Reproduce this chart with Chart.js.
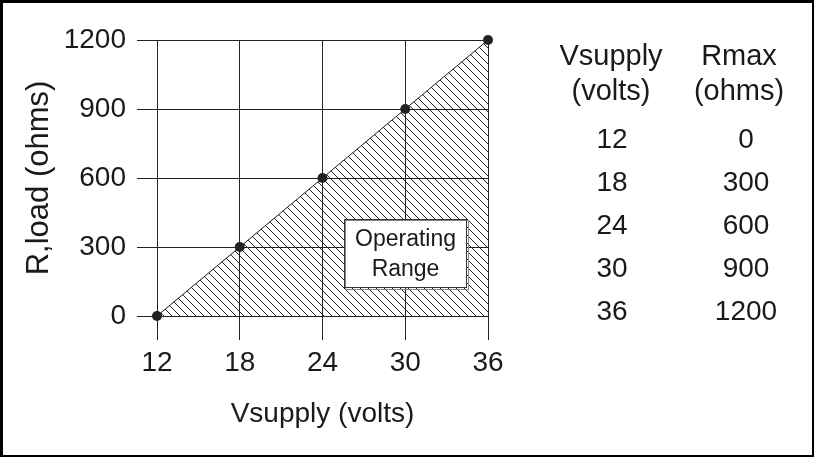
<!DOCTYPE html>
<html>
<head>
<meta charset="utf-8">
<script src="https://cdn.jsdelivr.net/npm/chart.js@4.4.1/dist/chart.umd.min.js"></script>
<style>
  html, body { margin: 0; padding: 0; background: #fff; }
  canvas { display: block; }
</style>
</head>
<body>
<canvas id="canvas" width="814" height="457"></canvas>
<script>
const vsupply = [12, 18, 24, 30, 36];
const rmax = [0, 300, 600, 900, 1200];
const xTicks = [12, 18, 24, 30, 36];
const yTicks = [0, 300, 600, 900, 1200];
const tableHead1 = ['Vsupply', '(volts)'];
const tableHead2 = ['Rmax', '(ohms)'];
const boxText = ['Operating', 'Range'];

const FONT = '"Liberation Sans", Arial, sans-serif';
const INK = '#1a1a1a';

// diagonal hatch for the operating region
function hatch() {
    const c = document.createElement('canvas');
    c.width = 8; c.height = 8;
    const g = c.getContext('2d');
    g.strokeStyle = '#222';
    g.lineWidth = 1;
    g.beginPath();
    g.moveTo(-2, -2); g.lineTo(10, 10);
    g.moveTo(-2, 6); g.lineTo(2, 10);
    g.moveTo(6, -2); g.lineTo(10, 2);
    g.stroke();
    return g.createPattern(c, 'repeat');
}

const extras = {
    id: 'extras',
    afterDatasetsDraw(chart) {
        const { ctx, scales: { x, y } } = chart;
        // label box inside the hatched area
        const x0 = x.getPixelForValue(25.56), x1 = x.getPixelForValue(34.48);
        const y0 = y.getPixelForValue(421.7), y1 = y.getPixelForValue(121.7);
        ctx.save();
        ctx.fillStyle = '#fff';
        ctx.fillRect(x0, y0, x1 - x0, y1 - y0);
        ctx.strokeStyle = '#888';
        ctx.lineWidth = 1;
        ctx.strokeRect(x0 + 1.5, y0 + 1.5, x1 - x0, y1 - y0);
        ctx.strokeStyle = '#333';
        ctx.strokeRect(x0 + 0.5, y0 + 0.5, x1 - x0 - 1, y1 - y0 - 1);
        ctx.fillStyle = INK;
        ctx.font = '23px ' + FONT;
        ctx.textAlign = 'center';
        ctx.textBaseline = 'middle';
        const cx = (x0 + x1) / 2;
        ctx.fillText(boxText[0], cx, 240);
        ctx.fillText(boxText[1], cx, 270);
        ctx.restore();
    },
    afterDraw(chart) {
        const { ctx, width, height } = chart;
        ctx.save();
        // data table on the right
        ctx.fillStyle = INK;
        ctx.font = '29px ' + FONT;
        ctx.textAlign = 'center';
        ctx.textBaseline = 'alphabetic';
        ctx.fillText(tableHead1[0], 611, 65);
        ctx.fillText(tableHead1[1], 611, 100);
        ctx.fillText(tableHead2[0], 739, 65);
        ctx.fillText(tableHead2[1], 739, 100);
        ctx.font = '28px ' + FONT;
        vsupply.forEach((v, i) => {
            ctx.fillText(String(v), 612, 148 + i * 43);
            ctx.fillText(String(rmax[i]), 746, 148 + i * 43);
        });
        // frame
        ctx.fillStyle = '#000';
        ctx.fillRect(0, 0, width, 3);
        ctx.fillRect(0, 0, 3, height);
        ctx.fillRect(width - 2, 0, 2, height);
        ctx.fillRect(0, height - 2, width, 2);
        ctx.restore();
    }
};

const ctx = document.getElementById('canvas').getContext('2d');

new Chart(ctx, {
    type: 'line',
    data: {
        datasets: [{
            data: vsupply.map((v, i) => ({ x: v, y: rmax[i] })),
            borderColor: INK,
            borderWidth: 1,
            backgroundColor: hatch(),
            fill: 'origin',
            pointRadius: 5,
            pointBackgroundColor: '#222',
            pointBorderWidth: 0,
            clip: false,
        }]
    },
    options: {
        responsive: false,
        animation: false,
        layout: { padding: { left: 0, top: 40, right: 326, bottom: 0 } },
        plugins: { legend: { display: false }, tooltip: { enabled: false } },
        scales: {
            x: {
                type: 'linear',
                min: 12,
                max: 36,
                afterBuildTicks: s => { s.ticks = xTicks.map(v => ({ value: v })); },
                afterFit: s => { s.height = 141; },
                grid: { color: '#222', lineWidth: 1, tickLength: 24 },
                border: { color: '#222' },
                ticks: { color: INK, font: { family: FONT, size: 28 }, padding: 6, callback: v => String(v) },
                title: {
                    display: true,
                    text: 'Vsupply (volts)',
                    color: INK,
                    font: { family: FONT, size: 28 },
                    padding: { top: 0, bottom: 26 }
                }
            },
            y: {
                min: 0,
                max: 1200,
                afterBuildTicks: s => { s.ticks = yTicks.map(v => ({ value: v })); },
                afterFit: s => { s.width = 157; },
                grid: { color: '#222', lineWidth: 1, tickLength: 20 },
                border: { color: '#222' },
                ticks: { color: INK, font: { family: FONT, size: 28 }, padding: 11, callback: v => String(v) },
                title: {
                    display: true,
                    text: 'R,load (ohms)',
                    color: INK,
                    font: { family: FONT, size: 31 },
                    padding: { top: 21, bottom: 0 }
                }
            }
        }
    },
    plugins: [extras]
});
</script>
</body>
</html>
